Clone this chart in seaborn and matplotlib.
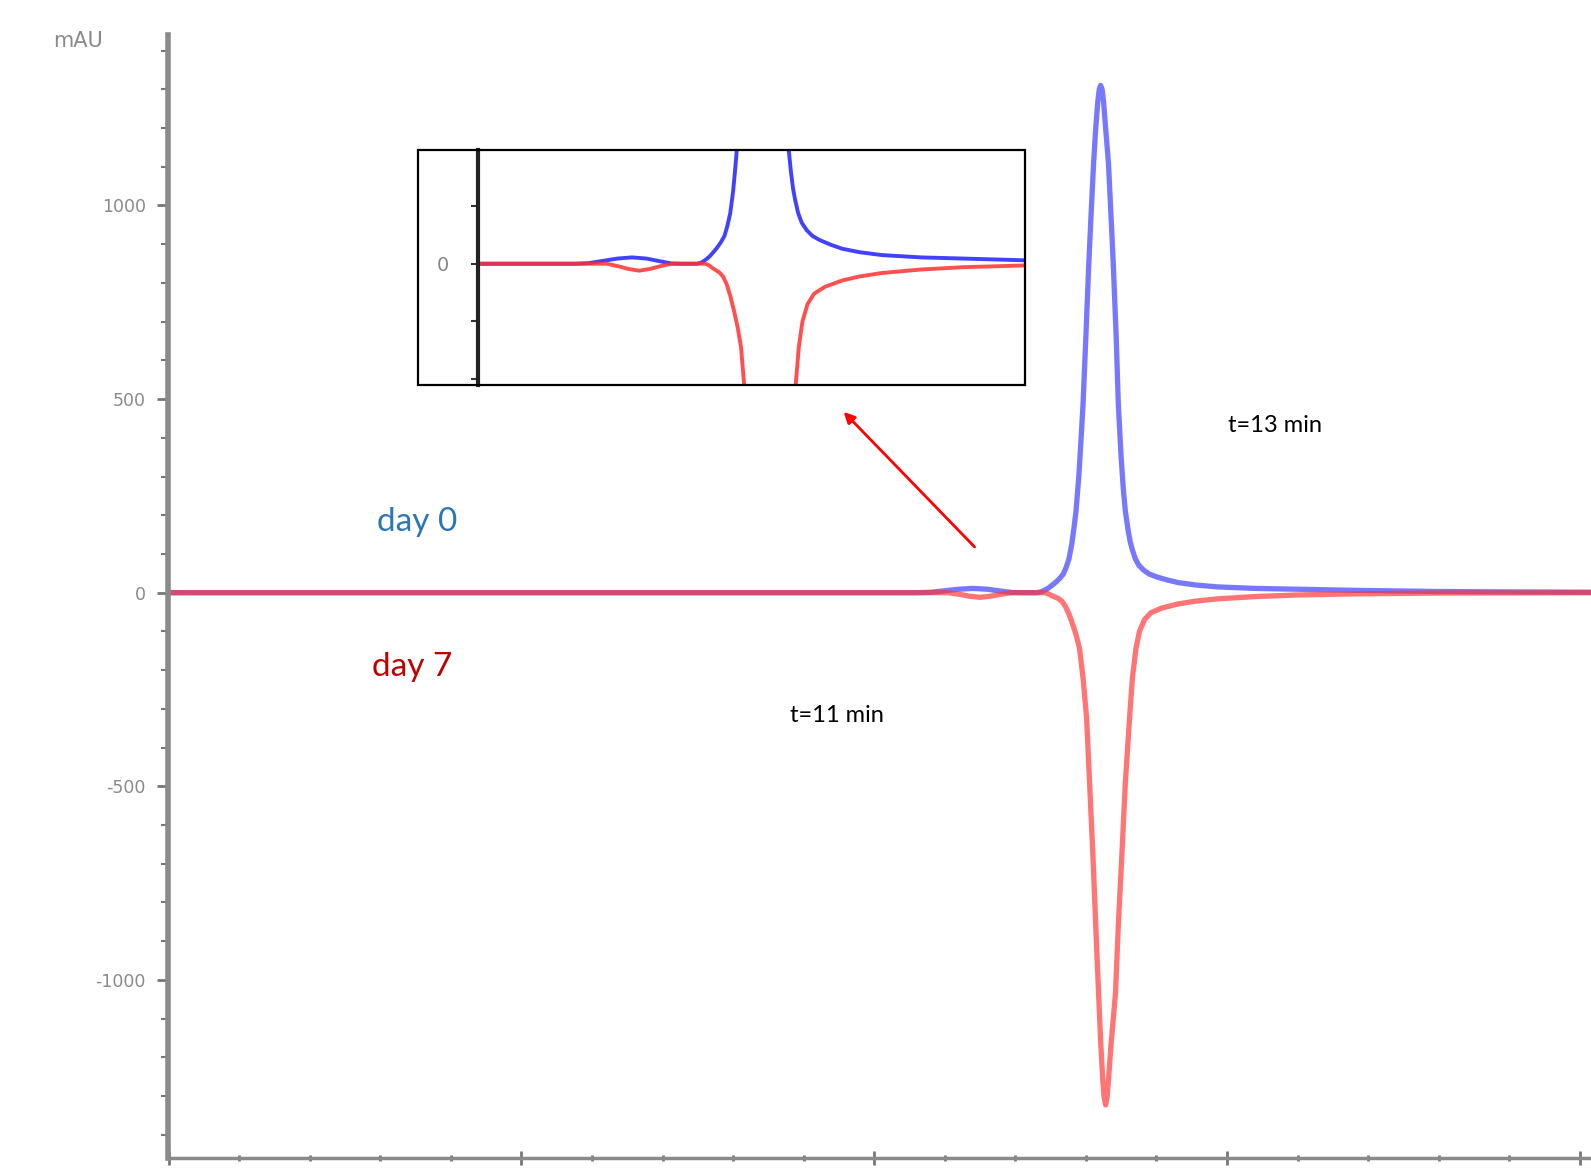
import numpy as np
import pandas as pd
import matplotlib
matplotlib.use("Agg")
import matplotlib.pyplot as plt
from matplotlib.patches import Rectangle
import seaborn as sns

# retention time (min) / absorbance (mAU)
day0_time = [0.0, 10.6, 10.8, 11.0, 11.2, 11.4, 11.6, 11.8, 11.95, 12.1, 12.3, 12.36, 12.41,
             12.47, 12.52, 12.58, 12.63, 12.68, 12.72, 12.76, 12.80, 12.83, 12.86, 12.90,
             12.93, 12.96, 13.00, 13.04, 13.08, 13.11, 13.14, 13.17, 13.19, 13.21, 13.23,
             13.25, 13.28, 13.32, 13.36, 13.39, 13.43, 13.46, 13.50, 13.53, 13.56, 13.60,
             13.63, 13.66, 13.70, 13.75, 13.82, 13.90, 14.00, 14.15, 14.31, 14.55, 14.86,
             15.4, 15.98, 16.82, 18.0, 19.0, 20.5]
day0_mau = [0, 0, 1, 5, 9, 11, 9, 4, 0.5, 0, 0, 2, 6,
            12, 19, 28, 37, 48, 65, 87, 125, 165, 210, 300,
            390, 487, 660, 843, 1000, 1110, 1200, 1270, 1300, 1310, 1300,
            1270, 1200, 1110, 960, 843, 660, 487, 350, 270, 210, 160,
            130, 110, 88, 71, 58, 48, 41, 33, 26, 20, 15,
            11, 9, 6, 3, 2, 1]

day7_time = [0.0, 11.05, 11.2, 11.35, 11.5, 11.65, 11.8, 11.95, 12.42, 12.47, 12.51, 12.56,
             12.61, 12.66, 12.71, 12.76, 12.81, 12.86, 12.91, 12.96, 13.01, 13.05, 13.10,
             13.14, 13.18, 13.21, 13.24, 13.26, 13.28, 13.30, 13.32, 13.36, 13.42, 13.46,
             13.51, 13.56, 13.62, 13.66, 13.71, 13.76, 13.83, 13.92, 14.07, 14.31, 14.55,
             14.86, 15.4, 15.98, 16.82, 18.0, 20.5]
day7_mau = [0, 0, -4, -9, -12, -9, -4, 0, 0, -3, -7, -11,
            -15, -22, -35, -55, -80, -108, -144, -220, -322, -480, -678,
            -860, -1034, -1160, -1260, -1305, -1323, -1305, -1260, -1160, -1034, -860,
            -678, -490, -322, -220, -144, -100, -70, -52, -40, -29, -22,
            -16, -10, -6, -3, -1, 0]

y_major = [-1000, -500, 0, 500, 1000]
y_labels = ["-1000", "-500", "0", "500", "1000"]
inset_ticks = [-200, -100, 0, 100]
inset_labels = ["", "", "0", ""]

day0 = pd.DataFrame({"time": day0_time, "mAU": day0_mau})
day7 = pd.DataFrame({"time": day7_time, "mAU": day7_mau})

sns.set_style("ticks")
plt.rcParams["font.family"] = ["Lato", "DejaVu Sans"]

W, H = 1591, 1170
fig = plt.figure(figsize=(W / 100, H / 100), dpi=100)

# main chromatogram
ax = fig.add_axes([168 / W, 12 / H, (W - 168) / W, (1158 - 35.5) / H])
sns.lineplot(data=day0, x="time", y="mAU", ax=ax, color="#4444ff", alpha=0.72,
             lw=3.8, estimator=None, sort=False, solid_joinstyle="round")
sns.lineplot(data=day7, x="time", y="mAU", ax=ax, color="#ff3333", alpha=0.68,
             lw=3.8, estimator=None, sort=False, solid_joinstyle="round")
ax.set_xlim(-0.01, 20.16)
ax.set_ylim(-1460, 1439)
ax.set_xlabel("")
ax.set_ylabel("")
for s in ["top", "right"]:
    ax.spines[s].set_visible(False)
ax.spines["left"].set_color("#8a8a8a")
ax.spines["left"].set_linewidth(4)
ax.spines["bottom"].set_color("#8a8a8a")
ax.spines["bottom"].set_linewidth(2.5)
ax.set_yticks(y_major)
ax.set_yticklabels(y_labels, family="DejaVu Sans")
ax.set_yticks(np.arange(-1400, 1401, 100), minor=True)
ax.tick_params(axis="y", which="major", left=True, length=8, width=2, color="#777777",
               labelcolor="#8a8a8a", labelsize=12.5, pad=8)
ax.tick_params(axis="y", which="minor", left=True, length=5, width=1.5, color="#777777")
ax.set_xticks([0, 5, 10, 15, 20])
ax.set_xticks(np.arange(0, 21, 1), minor=True)
ax.tick_params(axis="x", which="major", bottom=True, length=10, width=2, color="#777777",
               direction="inout", labelbottom=False)
ax.tick_params(axis="x", which="minor", bottom=True, length=5, width=2, color="#777777",
               direction="inout")

fig.text(53 / W, 1 - 41 / H, "mAU", color="#8a8a8a", fontsize=15,
         family="DejaVu Sans", va="center", ha="left")

# labels
fig.text(377 / W, 1 - 522 / H, "day 0", color="#2e75b6", fontsize=24,
         va="center", ha="left")
fig.text(372 / W, 1 - 667 / H, "day 7", color="#c00000", fontsize=24,
         va="center", ha="left")
fig.text(1228 / W, 1 - 426 / H, "t=13 min", color="black", fontsize=17,
         va="center", ha="left")
fig.text(790 / W, 1 - 716 / H, "t=11 min", color="black", fontsize=17,
         va="center", ha="left")

ax.annotate("", xy=(9.54, 472), xytext=(11.45, 113),
            arrowprops=dict(arrowstyle="-|>", color="red", lw=2,
                            mutation_scale=16))

# inset zoom
fig.patches.append(Rectangle((418 / W, 1 - 385 / H), 607 / W, 235 / H,
                             transform=fig.transFigure, fill=False,
                             edgecolor="black", lw=1.6, zorder=5))
axi = fig.add_axes([478 / W, 1 - 385 / H, (1025 - 478) / W, 235 / H])
sns.lineplot(data=day0, x="time", y="mAU", ax=axi, color="#2020ff", alpha=0.85,
             lw=2.8, estimator=None, sort=False, solid_joinstyle="round")
sns.lineplot(data=day7, x="time", y="mAU", ax=axi, color="#ff3030", alpha=0.85,
             lw=2.8, estimator=None, sort=False, solid_joinstyle="round")
axi.set_xlim(9.27, 16.84)
axi.set_ylim(-210, 197)
axi.set_xlabel("")
axi.set_ylabel("")
axi.set_facecolor("none")
for s in ["top", "right", "bottom"]:
    axi.spines[s].set_visible(False)
axi.spines["left"].set_color("#222222")
axi.spines["left"].set_linewidth(3)
axi.set_xticks([])
axi.set_yticks(inset_ticks)
axi.set_yticklabels(inset_labels, family="DejaVu Sans")
axi.tick_params(axis="y", left=True, length=5, width=1.5, color="#333333",
                labelcolor="#888888", labelsize=14, pad=16)

fig.savefig("out.png", dpi=100)
